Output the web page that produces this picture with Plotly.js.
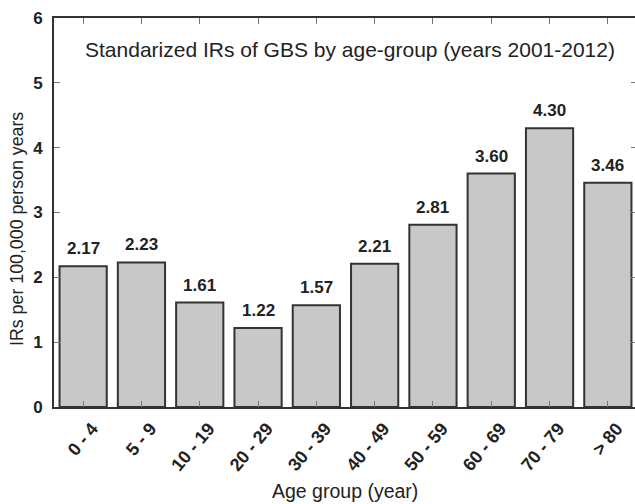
<!DOCTYPE html>
<html>
<head>
<meta charset="utf-8">
<script src="https://cdn.plot.ly/plotly-3.0.1.min.js"></script>
<style>
html,body{margin:0;padding:0;overflow:hidden;background:#fff;}
#chart{width:640px;height:504px;}
</style>
</head>
<body>
<div id="chart"></div>
<script>
var categories = ["0 - 4","5 - 9","10 - 19","20 - 29","30 - 39","40 - 49","50 - 59","60 - 69","70 - 79","> 80"];
var rates = [2.17, 2.23, 1.61, 1.22, 1.57, 2.21, 2.81, 3.60, 4.30, 3.46];
var rateLabels = ["2.17","2.23","1.61","1.22","1.57","2.21","2.81","3.60","4.30","3.46"];
var chartTitle = "Standarized IRs of GBS by age-group (years 2001-2012)";
var xTitle = "Age group (year)";
var yTitle = "IRs per 100,000 person years";

var FONT = "Liberation Sans, Arial, Helvetica, sans-serif";
var L = 54, R = 3, T = 18, B = 97, W = 640, H = 504;
var pw = W - L - R, ph = H - T - B;

var trace = {
  type: "bar",
  x: categories,
  y: rates,
  marker: {color: "#c8c8c8", line: {color: "#333333", width: 2}},
  hoverinfo: "skip"
};

var annotations = [];
for (var i = 0; i < categories.length; i++) {
  annotations.push({
    x: categories[i], y: rates[i], xref: "x", yref: "y",
    text: "<b>" + rateLabels[i] + "</b>", showarrow: false,
    yanchor: "bottom", xanchor: "center", yshift: 6,
    font: {family: FONT, size: 17, color: "#222"}
  });
}
annotations.push({
  xref: "paper", yref: "paper",
  x: (349.5 - L) / pw, y: (T + ph - 49) / ph,
  xanchor: "center", yanchor: "middle", showarrow: false,
  text: chartTitle, font: {family: FONT, size: 21, color: "#222"}
});
annotations.push({
  xref: "paper", yref: "paper",
  x: (17 - L) / pw, y: (T + ph - 229) / ph,
  xanchor: "center", yanchor: "middle", showarrow: false, textangle: -90,
  text: yTitle, font: {family: FONT, size: 17.8, color: "#222"}
});
annotations.push({
  xref: "paper", yref: "paper",
  x: (345 - L) / pw, y: (T + ph - 491) / ph,
  xanchor: "center", yanchor: "middle", showarrow: false,
  text: xTitle, font: {family: FONT, size: 19.5, color: "#222"}
});

var axisCommon = {
  showline: true, linecolor: "#333333", linewidth: 2, mirror: "ticks",
  ticks: "inside", ticklen: 6, tickwidth: 1, tickcolor: "#777",
  showgrid: false, zeroline: false
};

var layout = {
  width: W, height: H,
  margin: {l: L, r: R, t: T, b: B},
  paper_bgcolor: "#fff", plot_bgcolor: "#fff",
  showlegend: false,
  bargap: 0.19,
  xaxis: Object.assign({}, axisCommon, {
    type: "category", range: [-0.5, 9.5], tickangle: -50,
    ticklabelshift: 9, ticklabelstandoff: 2,
    tickfont: {family: FONT, size: 18, color: "#222", weight: "bold"}
  }),
  yaxis: Object.assign({}, axisCommon, {
    range: [0, 6], dtick: 1, tick0: 0, ticklabelstandoff: 6,
    tickfont: {family: FONT, size: 17, color: "#222", weight: "bold"}
  }),
  annotations: annotations
};

Plotly.newPlot("chart", [trace], layout, {displayModeBar: false, staticPlot: true});
</script>
</body>
</html>
